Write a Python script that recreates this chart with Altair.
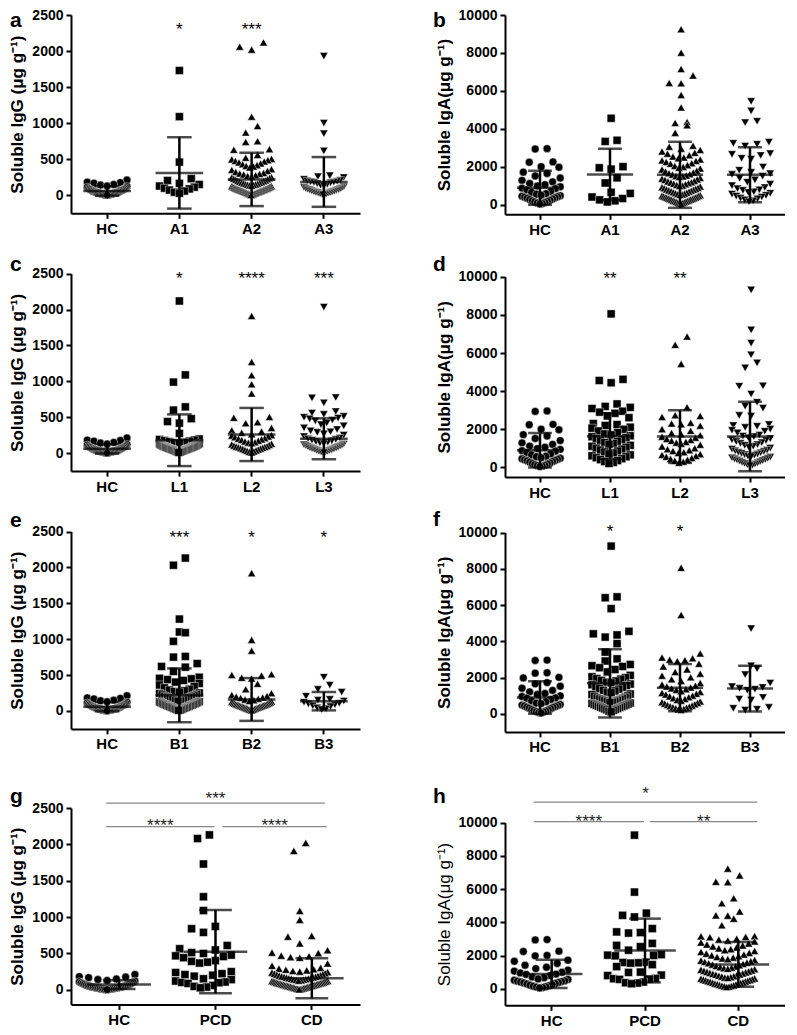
import altair as alt
import pandas as pd

FONT = "Liberation Sans"

# ---------------- data ----------------
IGG_HC = [212, 182, 176, 168, 150, 142, 128, 121, 112, 104, 96, 91, 86, 79, 76, 71, 64, 61, 57, 52,
          49, 45, 43, 40, 37, 35, 33, 30, 27, 25, 22, 20, 18, 15, 13, 11, 8, 7, 5, 3]
IGA_HC = [2960, 2940, 2260, 2240, 2010, 1980, 1720, 1650, 1520, 1410, 1290, 1210, 1120, 1060, 990, 950,
          880, 860, 790, 710, 660, 590, 560, 510, 480, 455, 430, 400, 370, 350, 310, 280, 240, 210,
          180, 150, 120, 95, 70, 45]

IGG_A1 = [1730, 1090, 460, 230, 205, 165, 150, 128, 112, 98, 88, 72, 58, 42, 28]
IGA_A1 = [4560, 3400, 3340, 2010, 1950, 1880, 1420, 1150, 660, 600, 410, 330, 260, 210, 150]
IGG_A2 = [2120, 2060, 2020, 1090, 960, 870, 750, 740, 640, 630, 560, 520, 505, 498, 487, 476, 468, 455,
          442, 430, 418, 407, 398, 385, 362, 351, 338, 322, 309, 301, 296, 288, 279, 268, 259, 251, 246,
          238, 229, 221, 214, 206, 199, 193, 187, 181, 176, 171, 165, 160, 154, 151, 146, 141, 137, 132,
          127, 124, 119, 115, 111, 107, 103, 100, 97, 94, 91, 88, 86, 83, 80, 78, 75, 72, 70, 67, 64, 62,
          59, 57, 54, 51, 48, 46, 43, 40, 38, 35, 32, 29, 26, 23, 20, 17, 14, 11, 8, 5]
IGA_A2 = [9250, 8010, 7150, 6810, 6420, 6400, 5780, 5130, 4360, 4310, 4190, 3790, 3110, 3060, 2960, 2890,
          2810, 2740, 2690, 2610, 2540, 2490, 2450, 2390, 2340, 2310, 2250, 2190, 2160, 2090, 2040, 1990,
          1950, 1910, 1860, 1790, 1760, 1700, 1660, 1610, 1590, 1540, 1510, 1490, 1460, 1410, 1370, 1340,
          1310, 1260, 1230, 1190, 1170, 1140, 1110, 1080, 1040, 1010, 990, 960, 920, 890, 870, 840, 810,
          790, 760, 740, 710, 690, 660, 640, 610, 590, 560, 540, 520, 500, 480, 460, 440, 420, 400, 390,
          370, 350, 330, 310, 300, 280, 260, 240, 220, 200, 190, 170, 150, 130, 110, 90, 70, 50]
IGG_A3 = [1930, 1000, 855, 615, 272, 258, 247, 222, 208, 199, 194, 188, 183, 179, 172, 161, 152, 139, 131,
          118, 109, 101, 96, 89, 84, 78, 74, 69, 63, 58, 54, 49, 44, 41, 36, 31, 26, 21, 17, 12, 8]
IGA_A3 = [5450, 4950, 4400, 4330, 3300, 3240, 3190, 3100, 2700, 2660, 2600, 2450, 2410, 1990, 1820, 1710,
          1640, 1600, 1510, 1390, 1310, 1190, 1090, 1010, 910, 850, 790, 760, 690, 650, 610, 560, 500,
          460, 410, 350, 310, 260, 210, 160]

IGG_L1 = [2120, 1090, 990, 645, 600, 480, 440, 418, 275, 198, 191, 183, 176, 168, 160, 153, 146, 140, 133,
          128, 122, 117, 113, 109, 104, 100, 97, 93, 89, 85, 82, 79, 75, 72, 69, 66, 62, 59, 56, 53, 50,
          47, 44, 41, 37, 34, 30, 27, 23, 19, 15, 11]
IGA_L1 = [8050, 4620, 4560, 4440, 3330, 3200, 3150, 3090, 2950, 2900, 2840, 2700, 2610, 2300, 2250, 2200,
          2110, 2060, 2000, 1910, 1830, 1760, 1710, 1660, 1610, 1560, 1500, 1460, 1400, 1360, 1310, 1260,
          1210, 1160, 1110, 1060, 1010, 960, 910, 860, 810, 760, 710, 660, 610, 560, 510, 460, 410, 360,
          310, 260, 210]
IGG_L2 = [1910, 1270, 1085, 960, 830, 505, 492, 432, 418, 352, 318, 302, 283, 262, 251, 243, 231, 222, 209,
          201, 192, 183, 172, 163, 152, 146, 139, 131, 122, 113, 104, 97, 91, 86, 81, 74, 69, 63, 57, 51,
          44, 38, 31, 24, 17, 10]
IGA_L2 = [6860, 6430, 5430, 3160, 2740, 2700, 2650, 2340, 2300, 2260, 2190, 2010, 1920, 1810, 1740, 1690,
          1610, 1560, 1490, 1440, 1400, 1340, 1300, 1240, 1190, 1100, 1010, 960, 900, 860, 800, 760, 700,
          650, 600, 560, 500, 450, 400, 350, 300, 250]
IGG_L3 = [2035, 775, 770, 700, 580, 560, 540, 512, 500, 488, 478, 462, 448, 420, 398, 381, 352, 330, 310,
          298, 289, 268, 251, 232, 211, 200, 191, 182, 171, 160, 152, 143, 134, 127, 119, 112, 106, 99, 93,
          87, 81, 76, 71, 66, 61, 56, 51, 46, 41, 37, 32, 27, 22, 17, 12, 7]
IGA_L3 = [9310, 7210, 6520, 5910, 5480, 5220, 4280, 4260, 3850, 3420, 3210, 3110, 2730, 2700, 2250, 2200,
          2160, 2100, 2010, 1950, 1900, 1810, 1700, 1650, 1620, 1560, 1510, 1450, 1410, 1360, 1300, 1260,
          1200, 1160, 1110, 1050, 1010, 960, 910, 870, 840, 800, 770, 740, 700, 670, 640, 600, 570, 540,
          510, 480, 450, 420, 390, 360, 330, 300, 270, 240, 210, 180, 150, 120, 90]

IGG_B1 = [2130, 2030, 1280, 1100, 1090, 970, 760, 750, 660, 620, 610, 550, 470, 455, 448, 437, 425, 402,
          383, 362, 341, 322, 303, 291, 282, 271, 262, 251, 243, 232, 224, 213, 205, 198, 191, 183, 176,
          169, 161, 154, 148, 142, 137, 131, 126, 121, 116, 111, 106, 101, 97, 92, 88, 84, 79, 75, 71, 67,
          62, 58, 54, 49, 45, 41, 36, 32, 27, 22, 18, 13, 9]
IGA_B1 = [9250, 6450, 6400, 5800, 4550, 4410, 4350, 4230, 3870, 3400, 3030, 2910, 2720, 2650, 2610, 2540,
          2440, 2310, 2120, 2040, 1990, 1940, 1910, 1840, 1810, 1740, 1710, 1640, 1600, 1560, 1490, 1460,
          1390, 1360, 1290, 1260, 1190, 1160, 1090, 1060, 990, 960, 910, 870, 850, 820, 790, 770, 740, 720,
          690, 670, 640, 620, 590, 570, 540, 520, 490, 470, 440, 420, 390, 370, 340, 320, 290, 270, 240,
          220, 190, 150, 110]
IGG_B2 = [1920, 990, 840, 510, 502, 493, 462, 451, 378, 302, 248, 221, 208, 199, 188, 181, 169, 158, 151,
          139, 131, 126, 119, 114, 108, 103, 98, 94, 91, 87, 83, 79, 76, 72, 68, 65, 61, 58, 54, 51, 47,
          44, 40, 36, 33, 29, 25, 21, 17, 13, 9]
IGA_B2 = [8050, 5450, 3330, 3100, 3060, 2980, 2950, 2900, 2760, 2610, 2450, 2300, 2210, 2100, 2010, 1900,
          1810, 1700, 1610, 1550, 1500, 1450, 1400, 1350, 1310, 1250, 1200, 1150, 1100, 1060, 1000, 960,
          910, 860, 810, 760, 720, 680, 640, 600, 560, 520, 480, 450, 420, 390, 360, 330, 300, 270, 240, 210]
IGG_B3 = [470, 360, 300, 262, 205, 162, 151, 139, 122, 108, 98, 87, 72, 61, 43, 31, 19]
IGA_B3 = [4700, 2650, 2490, 2160, 1700, 1500, 1450, 1400, 1350, 1300, 900, 810, 760, 350, 300, 250, 200]

IGG_PCD = [2130, 2080, 1730, 1280, 1090, 872, 840, 790, 610, 565, 548, 512, 500, 478, 468, 458, 442, 402,
           392, 381, 368, 250, 238, 222, 210, 201, 188, 152, 141, 121, 108, 102, 98, 88, 61, 48, 38, 28]
IGA_PCD = [9250, 5820, 4550, 4420, 4320, 3620, 3420, 3380, 3350, 2730, 2610, 2530, 2320, 2050, 2020, 2000,
           1980, 1600, 1580, 1560, 1540, 1450, 1330, 1000, 980, 820, 790, 620, 600, 580, 560, 400, 360,
           340, 300]
IGG_CD = [2020, 1910, 1085, 962, 742, 731, 638, 545, 512, 505, 470, 462, 450, 441, 362, 331, 302, 291, 283,
          276, 268, 259, 251, 243, 236, 228, 221, 214, 207, 200, 196, 191, 186, 181, 177, 172, 168, 163,
          159, 155, 151, 147, 143, 139, 135, 131, 127, 123, 120, 116, 113, 109, 106, 102, 99, 96, 93, 90,
          87, 84, 81, 78, 75, 72, 69, 66, 63, 60, 58, 55, 52, 49, 47, 44, 41, 38, 36, 33, 30, 27, 24, 21,
          18, 15, 12, 9, 6]
IGA_CD = [7230, 6830, 6440, 6420, 5450, 5150, 4650, 4420, 4400, 4220, 3820, 3170, 3150, 3120, 3100, 3010,
          2960, 2900, 2850, 2780, 2720, 2660, 2600, 2550, 2490, 2430, 2380, 2320, 2270, 2210, 2160, 2110,
          2060, 2010, 1960, 1910, 1870, 1820, 1780, 1730, 1690, 1650, 1610, 1570, 1530, 1490, 1450, 1410,
          1370, 1340, 1300, 1270, 1230, 1200, 1170, 1130, 1100, 1070, 1040, 1010, 980, 950, 920, 890, 860,
          840, 810, 780, 750, 730, 700, 670, 650, 620, 600, 570, 550, 520, 500, 480, 450, 430, 410, 380,
          360, 340, 310, 290, 270, 250, 220, 200, 180, 160, 140, 120, 100]

# means and SD as drawn
MEAN_A = [60, 310, 220, 185];   SD_A = [65, 495, 370, 345]
MEAN_B = [900, 1600, 1580, 1580]; SD_B = [900, 1350, 1740, 1450]
MEAN_C = [60, 180, 260, 200];   SD_C = [65, 360, 370, 285]
MEAN_D = [900, 1640, 1620, 1620]; SD_D = [900, 1200, 1380, 1820]
MEAN_E = [60, 218, 160, 136];   SD_E = [65, 375, 298, 128]
MEAN_F = [900, 1680, 1440, 1390]; SD_F = [900, 1880, 1300, 1260]
MEAN_G = [72, 525, 158];        SD_G = [60, 572, 275]
MEAN_H = [890, 2300, 1465];     SD_H = [850, 1920, 1350]

IGG_TICKS = [0, 500, 1000, 1500, 2000, 2500]
IGA_TICKS = [0, 2000, 4000, 6000, 8000, 10000]

TITLE_G = "Soluble IgG (\u03bcg g\u207b\u00b9)"
TITLE_A = "Soluble IgA(\u03bcg g\u207b\u00b9)"

SHAPES4 = ["circle", "square", "triangle-up", "triangle-down"]
SIZES4 = [62, 68, 82, 82]
SHAPES3 = ["circle", "square", "triangle-up"]
SIZES3 = [62, 68, 82]

H = 197.5
WL, WR = 289, 280

panels_cfg = [
    dict(letter="a", cats=["HC", "A1", "A2", "A3"], groups=[IGG_HC, IGG_A1, IGG_A2, IGG_A3],
         means=MEAN_A, sds=SD_A, domain=[-250, 2500], ticks=IGG_TICKS, title=TITLE_G, yt=0, yb=198.3,
         stars=[("A1", "*"), ("A2", "***")], star_lvl=2364, ly=12),
    dict(letter="b", cats=["HC", "A1", "A2", "A3"], groups=[IGA_HC, IGA_A1, IGA_A2, IGA_A3],
         means=MEAN_B, sds=SD_B, domain=[-500, 10000], ticks=IGA_TICKS, title=TITLE_A, yt=0, yb=199.3,
         stars=[], star_lvl=0, ly=12),
    dict(letter="c", cats=["HC", "L1", "L2", "L3"], groups=[IGG_HC, IGG_L1, IGG_L2, IGG_L3],
         means=MEAN_C, sds=SD_C, domain=[-250, 2500], ticks=IGG_TICKS, title=TITLE_G, yt=0.7, yb=198.1,
         stars=[("L1", "*"), ("L2", "****"), ("L3", "***")], star_lvl=2500, ly=-2.2),
    dict(letter="d", cats=["HC", "L1", "L2", "L3"], groups=[IGA_HC, IGA_L1, IGA_L2, IGA_L3],
         means=MEAN_D, sds=SD_D, domain=[-500, 10000], ticks=IGA_TICKS, title=TITLE_A, yt=3.7, yb=204.0,
         stars=[("L1", "**"), ("L2", "**")], star_lvl=10157, ly=-2.2),
    dict(letter="e", cats=["HC", "B1", "B2", "B3"], groups=[IGG_HC, IGG_B1, IGG_B2, IGG_B3],
         means=MEAN_E, sds=SD_E, domain=[-250, 2500], ticks=IGG_TICKS, title=TITLE_G, yt=0.5, yb=197.9,
         stars=[("B1", "***"), ("B2", "*"), ("B3", "*")], star_lvl=2486, ly=-4.4),
    dict(letter="f", cats=["HC", "B1", "B2", "B3"], groups=[IGA_HC, IGA_B1, IGA_B2, IGA_B3],
         means=MEAN_F, sds=SD_F, domain=[-1000, 10000], ticks=IGA_TICKS, title=TITLE_A, yt=1.5, yb=200.9,
         stars=[("B1", "*"), ("B2", "*")], star_lvl=10325, ly=-5.4),
    dict(letter="g", cats=["HC", "PCD", "CD"], groups=[IGG_HC, IGG_PCD, IGG_CD],
         means=MEAN_G, sds=SD_G, domain=[-200, 2500], ticks=IGG_TICKS, title=TITLE_G, yt=19.0, yb=215.4,
         stars=[], star_lvl=0, ly=14.1,
         bars=[(0, -13, 2, 13, 2567, "***", 2698), (0, -13, 1, -1, 2244, "****", 2316),
               (1, 7, 2, 15, 2244, "****", 2316)]),
    dict(letter="h", cats=["HC", "PCD", "CD"], groups=[IGA_HC, IGA_PCD, IGA_CD],
         means=MEAN_H, sds=SD_H, domain=[-1000, 10000], ticks=IGA_TICKS, title=TITLE_A, yt=33.7, yb=216.3,
         stars=[], star_lvl=0, ly=14.1, title_weight="normal",
         bars=[(0, -18, 2, 19, 11241, "*", 12050), (0, -18, 1, -1, 10060, "****", 10370),
               (1, 5, 2, 19, 10060, "**", 10370)]),
]


def swarm(values, ppu, d, maxw, gap=1.35):
    """Row-based scatter-dot layout: offsets (px) computed from the values."""
    order = sorted(range(len(values)), key=lambda i: values[i])
    offs = [0.0] * len(values)
    rows, cur, start = [], [], None
    for i in order:
        y = values[i] * ppu
        if cur and y - start >= d:
            rows.append(cur)
            cur = []
        if not cur:
            start = y
        cur.append(i)
    if cur:
        rows.append(cur)
    for row in rows:
        k = len(row)
        if k == 1:
            continue
        sp = min(gap * d, 2 * maxw / (k - 1))
        pos = [(j - (k - 1) / 2) * sp for j in range(k)]
        pos.sort(key=lambda p: (abs(p), p))
        for i, p in zip(row, pos):
            offs[i] = p
    return offs


def make_panel(p, col):
    W = WL if col == 0 else WR
    cats = p["cats"]
    n = len(cats)
    step = W / n
    dmin, dmax = p["domain"]
    yt, yb = p["yt"], p["yb"]
    ppu = (yb - yt) / (dmax - dmin)
    maxw = 0.33 * step - 4
    shapes = SHAPES4 if n == 4 else SHAPES3
    sizes = SIZES4 if n == 4 else SIZES3

    rows = []
    for c, vals in zip(cats, p["groups"]):
        offs = swarm(vals, ppu, 8.8, maxw)
        for v, o in zip(vals, offs):
            rows.append({"cat": c, "val": v, "off": o})
    pts = pd.DataFrame(rows)

    xs = alt.Scale(domain=cats, paddingInner=0, paddingOuter=0)
    ys = alt.Scale(domain=[dmin, dmax], range=[yb, yt], nice=False, zero=False)
    xax = alt.Axis(title=None, labelAngle=0, labelFontSize=15, labelFontWeight="bold",
                   labelPadding=3, offset=yb - H, domainWidth=2, tickWidth=2, tickSize=5)
    yax = alt.Axis(values=p["ticks"], format="d", title=p["title"], titleFontSize=17,
                   titleFontWeight=p.get("title_weight", "bold"), titlePadding=5,
                   labelFontSize=14, labelFontWeight="bold", labelPadding=3, domainWidth=2,
                   tickWidth=2, tickSize=5)

    def X(field="cat"):
        return alt.X(f"{field}:N", scale=xs, axis=xax)

    def Y(field):
        return alt.Y(f"{field}:Q", scale=ys, axis=yax)

    layers = []
    layers.append(
        alt.Chart(pts).mark_point(filled=True, fill="black", stroke="white", strokeWidth=0.45, opacity=1)
        .encode(
            x=X(),
            xOffset=alt.XOffset("off:Q", scale=alt.Scale(domain=[-100, 100],
                                                          range=[step / 2 - 100, step / 2 + 100])),
            y=Y("val"),
            shape=alt.Shape("cat:N", scale=alt.Scale(domain=cats, range=shapes), legend=None),
            size=alt.Size("cat:N", scale=alt.Scale(domain=cats, range=sizes), legend=None),
        )
    )
    stat = pd.DataFrame({"cat": cats, "mean": p["means"], "sd": p["sds"]})
    base = alt.Chart(stat).transform_calculate(lo="datum.mean - datum.sd", hi="datum.mean + datum.sd")
    layers.append(base.mark_rule(color="black", strokeWidth=2.5).encode(x=X(), y=Y("lo"), y2="hi:Q"))
    layers.append(base.transform_fold(["lo", "hi"]).mark_tick(
        color="black", thickness=2.5, size=0.34 * step, orient="horizontal").encode(x=X(), y=Y("value")))
    layers.append(alt.Chart(stat).mark_tick(
        color="black", thickness=2.5, size=0.66 * step, orient="horizontal").encode(x=X(), y=Y("mean")))

    if p["stars"]:
        sdf = pd.DataFrame({"cat": [s[0] for s in p["stars"]], "s": [s[1] for s in p["stars"]],
                            "lvl": [p["star_lvl"]] * len(p["stars"])})
        layers.append(alt.Chart(sdf).mark_text(fontSize=17, dy=5, baseline="middle", align="center",
                                               color="black", font=FONT)
                      .encode(x=X(), y=Y("lvl"), text="s:N"))

    for (j1, o1, j2, o2, lvl, txt, tl) in p.get("bars", []):
        start = j1 * step + o1
        end = j2 * step + o2
        dx = (start + end) / 2 - j1 * step
        bdf = pd.DataFrame({"c": [cats[j1]], "lvl": [lvl], "tl": [tl], "t": [txt]})
        layers.append(alt.Chart(bdf).mark_tick(color="#555555", thickness=1.3, size=end - start,
                                               orient="horizontal", xOffset=dx)
                      .encode(x=X("c"), y=Y("lvl")))
        layers.append(alt.Chart(bdf).mark_text(fontSize=17, dy=5, dx=dx, baseline="middle",
                                               align="center", color="#222222", font=FONT)
                      .encode(x=X("c"), y=Y("tl"), text="t:N"))

    lx = -61 if col == 0 else -72
    layers.append(alt.Chart(pd.DataFrame({"t": [p["letter"]]})).mark_text(
        align="left", baseline="alphabetic", fontSize=21, fontWeight="bold", color="black", font=FONT)
        .encode(x=alt.value(lx), y=alt.value(p["ly"]), text="t:N"))

    return alt.layer(*layers).properties(width=W, height=H)


panels = [make_panel(p, i % 2) for i, p in enumerate(panels_cfg)]

chart = (
    alt.concat(*panels, columns=2, spacing={"row": 60, "column": 145}, bounds="flush", align="each")
    .resolve_scale(shape="independent", size="independent")
    .properties(padding=0)
    .configure_view(stroke=None)
    .configure_axis(domainColor="black", tickColor="black", labelColor="black", titleColor="black",
                    labelFont=FONT, titleFont=FONT, grid=False)
    .configure_text(font=FONT)
)

chart.save("out.html", embed_options={"renderer": "svg", "actions": False})
